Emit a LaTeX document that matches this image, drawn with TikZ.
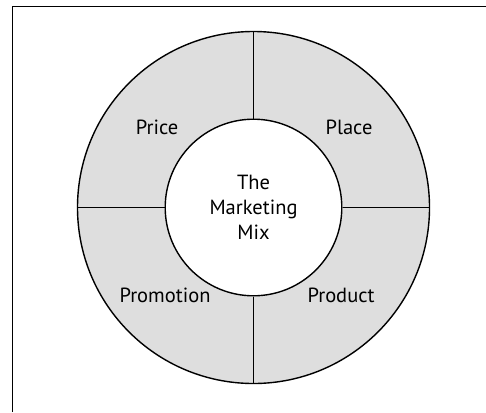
\documentclass[tikz,border=0pt]{standalone}
\usepackage{fontspec}
\setmainfont{PT Sans}
\usepackage{xcolor}
\usepackage{tikz}
\usetikzlibrary{positioning}

\definecolor{ringgray}{HTML}{DEDEDE}

\begin{document}
\begin{tikzpicture}[x=1pt,y=-1pt,
  ring/.style={circle,draw,line width=1.4pt,fill=ringgray,minimum size=352pt,inner sep=0pt},
  hub/.style={circle,draw,line width=1.4pt,fill=white,minimum size=176.6pt,inner sep=0pt,align=center,font=\fontsize{20.5}{25}\selectfont},
  part/.style={font=\fontsize{20.5}{22}\selectfont,inner sep=0pt},
  divider/.style={line width=1.4pt}]
\useasboundingbox (0,0) rectangle (486,412);
\draw[line width=1pt] (12.5,412) |- (486,7);

\node[ring] (ring) at (253.5,207.5) {};
\node[hub] (mix) at (253.5,207.5) {The\\Marketing\\Mix};

\draw[divider] (mix.north) -- (ring.north);
\draw[divider] (mix.south) -- (ring.south);
\draw[divider] (mix.west) -- (ring.west);
\draw[divider] (mix.east) -- (ring.east);

\node[part] (price) at (157,127) {Price};
\node[part] (place) at (349,127) {Place};
\node[part] (promotion) at (165,295) {Promotion};
\node[part] (product) at (341,295) {Product};

\end{tikzpicture}
\end{document}
